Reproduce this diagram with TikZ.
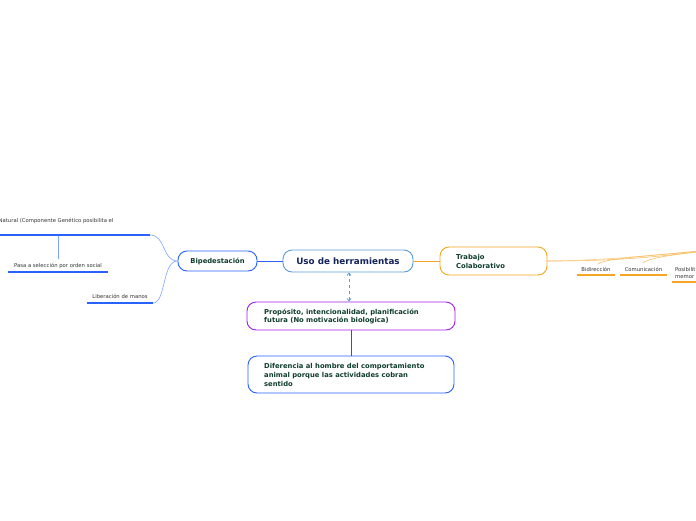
\documentclass[tikz,border=0pt]{standalone}
\usepackage{fontspec}
\setmainfont{DejaVu Sans}
\usetikzlibrary{arrows.meta}
\definecolor{txtgreen}{HTML}{0F3D2E}
\definecolor{navy}{HTML}{14245A}
\definecolor{bblue}{HTML}{2962FF}
\definecolor{lblue}{HTML}{7FA4FF}
\definecolor{ublue}{HTML}{5A9BD8}
\definecolor{orng}{HTML}{F5A623}
\definecolor{purp}{HTML}{A020E8}
\tikzset{
  topic/.style={draw, rounded corners=9pt, fill=white, line width=0.9pt, inner sep=0pt},
  btext/.style={font=\fontsize{6.8}{8.8}\selectfont\bfseries, text=txtgreen, align=left},
  small/.style={font=\fontsize{5.3}{7}\selectfont, text=black!80, inner sep=0pt, align=left},
  uline/.style={line width=1.3pt},
  thin/.style={line width=0.6pt}
}
\begin{document}
\begin{tikzpicture}[x=1pt,y=-1pt]
\clip (0,0) rectangle (696,520);
\fill[white] (0,0) rectangle (696,520);

% main topic
\node[topic, draw=ublue, minimum width=130pt, minimum height=22pt,
  font=\fontsize{8.8}{10}\selectfont\bfseries, text=navy] (uso) at (348,261) {Uso de herramientas};

% Bipedestacion
\node[topic, draw=bblue, minimum width=79pt, minimum height=20pt, btext] (bip) at (217.5,261) {Bipedestación};

% Trabajo colaborativo
\node[topic, draw=orng, minimum width=107pt, minimum height=28pt] (trab) at (493.5,261) {};
\node[btext, anchor=west, inner sep=0pt] (trabt) at (456,261.5) {Trabajo\\Colaborativo};

% Proposito
\node[topic, draw=purp, minimum width=208pt, minimum height=28pt] (prop) at (351,316) {};
\node[btext, anchor=west, inner sep=0pt] (propt) at (264,316.5) {Propósito, intencionalidad, planificación\\futura (No motivación biologica)};

% Diferencia
\node[topic, draw=bblue, minimum width=206pt, minimum height=37pt] (dif) at (351,374.5) {};
\node[btext, anchor=west, inner sep=0pt] (dift) at (264,375) {Diferencia al hombre del comportamiento\\animal porque las actividades cobran\\sentido};

% connectors from main
\draw[bblue, line width=1pt] (uso.west) -- (bip.east);
\draw[orng, line width=1pt] (uso.east) -- (trab.west);
\draw[ublue, line width=0.7pt, dashed, {Straight Barb[length=2.5pt,width=4pt]}-{Straight Barb[length=2.5pt,width=4pt]}] (349,272.5) -- (349,301.5);
\draw[bblue!85!black, line width=1pt] (prop.south) -- (dif.north);

% left children of Bipedestacion
\coordinate (natE) at (150,235);
\coordinate (natW) at (-2,235);
\node[small, anchor=south west] (nat) at (-1.5,224) {Natural (Componente Genético posibilita el};
\draw[bblue, uline] (natW) -- (natE);
\draw[lblue, thin] (natE) .. controls (166,235) and (162,261) .. (bip.west);

\node[small, anchor=south] (pasa) at (58,269) {Pasa a selección por orden social};
\coordinate (pasaW) at (8,272);
\coordinate (pasaE) at (108,272);
\draw[bblue, uline] (pasaW) -- (pasaE);
\coordinate (natM) at (58,236);
\coordinate (pasaT) at (58,259);
\draw[lblue, thin] (natM) -- (pasaT);

\node[small, anchor=south] (lib) at (120,299) {Liberación de manos};
\coordinate (libW) at (87,303);
\coordinate (libE) at (153,303);
\draw[bblue, uline] (libW) -- (libE);
\draw[lblue, thin] (libE) .. controls (166,303) and (162,261) .. (bip.west);

% right children of Trabajo
\coordinate (offR) at (712,250);
\draw[orng!70, thin] (trab.east) .. controls (610,261) and (650,258) .. (offR);
\draw[orng!55, thin] (trab.east) .. controls (620,260) and (660,254) .. (offR);

\node[small, anchor=south] (bidi) at (596,272) {Bidirección};
\coordinate (bidiW) at (577,275);
\coordinate (bidiE) at (615,275);
\draw[orng, uline] (bidiW) -- (bidiE);
\coordinate (bidiT) at (598,264);
\draw[orng!70, thin] (bidiT) .. controls (606,258) and (650,256) .. (offR);

\node[small, anchor=south] (comu) at (643.5,272) {Comunicación};
\coordinate (comuW) at (620,275);
\coordinate (comuE) at (667,275);
\draw[orng, uline] (comuW) -- (comuE);
\coordinate (comuT) at (643,263);
\draw[orng!70, thin] (comuT) .. controls (650,257) and (680,254) .. (offR);

\node[small, anchor=south west] (posi) at (675,279) {Posibilit\\memor};
\coordinate (posiW) at (672,282);
\coordinate (posiE) at (700,282);
\draw[orng, uline] (posiW) -- (posiE);
\end{tikzpicture}
\end{document}
